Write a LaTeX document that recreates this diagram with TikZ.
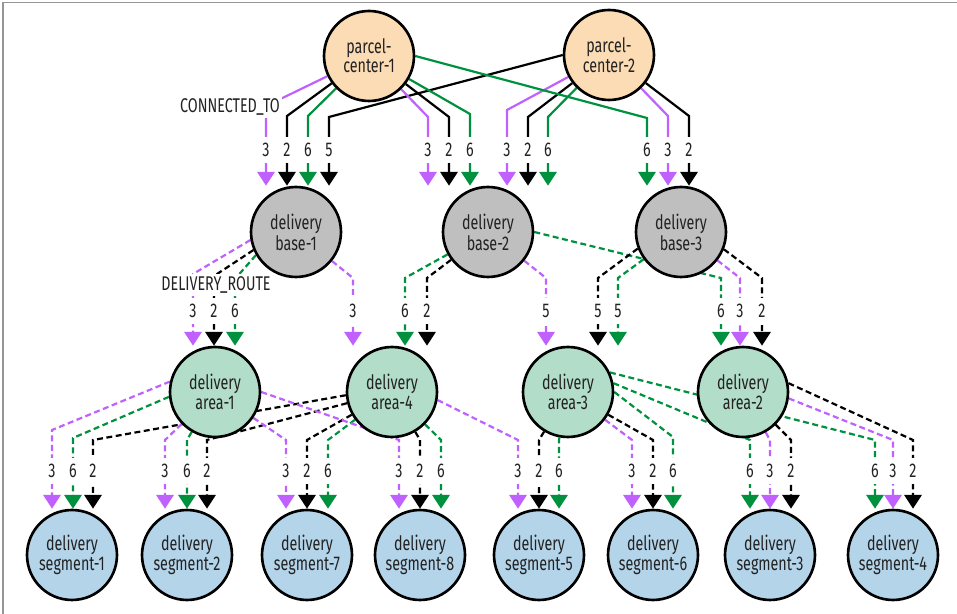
\documentclass[tikz,border=0pt]{standalone}
\usepackage{fontspec}
\setmainfont{Fira Sans}[FakeStretch=0.72]
\usepackage{tikz}
\usetikzlibrary{arrows.meta,backgrounds}
\definecolor{pcfill}{HTML}{FCDCB4}
\definecolor{basefill}{HTML}{BFBFBF}
\definecolor{areafill}{HTML}{B2DDC8}
\definecolor{segfill}{HTML}{B4D4EA}
\definecolor{per}{HTML}{BF60FF}
\definecolor{grn}{HTML}{00913F}
\definecolor{ink}{HTML}{222222}
\definecolor{framec}{HTML}{969696}
\tikzset{
  hub/.style={circle, draw=black, line width=1.5pt, minimum size=1.8cm,
              inner sep=0pt, align=center, text=ink,
              font=\fontsize{11.3}{9.8}\selectfont},
  pcn/.style={hub, fill=pcfill},
  basen/.style={hub, fill=basefill},
  arean/.style={hub, fill=areafill},
  segn/.style={hub, fill=segfill},
  lnk/.style={line width=1.25pt, -{Triangle[length=7.8pt,width=9.8pt]}},
  pu/.style={lnk, draw=per},
  bk/.style={lnk, draw=black},
  gn/.style={lnk, draw=grn},
  % delivery routes are dashed
  pud/.style={pu, dash pattern=on 3.4pt off 2pt},
  bkd/.style={bk, dash pattern=on 3.4pt off 2pt},
  gnd/.style={gn, dash pattern=on 3.4pt off 2pt},
  num/.style={fill=white, inner xsep=1pt, inner ysep=0pt, minimum height=14.5pt,
              text=ink, font=\fontsize{11.3}{11}\selectfont},
  rel/.style={fill=white, inner sep=1.5pt, text=ink,
              font=\fontsize{11.3}{11}\selectfont},
}

\begin{document}
\begin{tikzpicture}[x=0.02cm, y=-0.02cm]
  \useasboundingbox (0,0) rectangle (957,614);
  \draw[framec, line width=1.1pt] (3,614) -- (3,2.5) -- (957,2.5);

  % --- nodes ---
  \node[pcn] (pc1) at (369,56) {parcel-\\center-1};
  \node[pcn] (pc2) at (609,55) {parcel-\\center-2};

  \node[basen] (b1) at (296,232) {delivery\\base-1};
  \node[basen] (b2) at (488,232) {delivery\\base-2};
  \node[basen] (b3) at (681,232) {delivery\\base-3};

  \node[arean] (a1) at (215,392) {delivery\\area-1};
  \node[arean] (a4) at (392,392) {delivery\\area-4};
  \node[arean] (a3) at (568,392) {delivery\\area-3};
  \node[arean] (a2) at (743,392) {delivery\\area-2};

  \foreach \n/\x in {1/72, 2/187, 7/307, 8/420, 5/539, 6/653, 3/770, 4/893}
    \node[segn] (s\n) at (\x,555) {delivery\\segment-\n};

  \begin{pgfonlayer}{background}
    % --- CONNECTED_TO: parcel centres to bases ---
    \foreach \src/\st/\x/\yb/\lab/\tgt in {
        pc1/pu/266/106/3/b1, pc1/bk/287/116/2/b1, pc1/gn/308/116/6/b1,
        pc2.west/bk/329/117/5/b1,
        pc1/pu/428/117/3/b2, pc1/bk/449/117/2/b2, pc1/gn/470/114/6/b2,
        pc2/pu/507/110/3/b2, pc2/bk/528/117/2/b2, pc2/gn/548/117/6/b2,
        pc1.east/gn/647/118/6/b3, pc2/pu/668/116/3/b3, pc2/bk/689/116/2/b3}{
      \draw[\st] (\src) -- (\x,\yb) -- (\x,\yb |- \tgt.north);
      \node[num] (c-\tgt-\x) at (\x,150) {\lab};
    }
    % --- DELIVERY_ROUTE: bases to areas ---
    \foreach \src/\st/\x/\yb/\lab/\tgt in {
        b1.190/pud/193/274/3/a1, b1.203/bkd/214/276/2/a1, b1.210/gnd/235/279/6/a1,
        b1/pud/353/278/3/a4,
        b2/gnd/405/278/6/a4, b2/bkd/427/278/2/a4, b2/pud/546/278/5/a3,
        b2.east/gnd/721/278/6/a2,
        b3.201/bkd/598/278/5/a3, b3/gnd/618/278/5/a3,
        b3/pud/740/278/3/a2, b3.-22/bkd/762/278/2/a2}{
      \draw[\st] (\src) -- (\x,\yb) -- (\x,\yb |- \tgt.north);
      \node[num] (d-\tgt-\x) at (\x,311) {\lab};
    }
    % --- DELIVERY_ROUTE: areas to segments ---
    \foreach \src/\st/\x/\yb/\lab/\tgt in {
        a1.167/pud/52/430/3/s1, a1.186/gnd/73/438/6/s1, a4.184/bkd/93/440/2/s1,
        a1/pud/165/440/3/s2, a1/gnd/187/440/6/s2, a4.194/bkd/207/440/2/s2,
        a1/pud/286/440/3/s7, a4/bkd/307/440/2/s7, a4/gnd/328/440/6/s7,
        a1.east/pud/399/440/3/s8, a4/bkd/420/440/2/s8, a4/gnd/441/440/6/s8,
        a4.-10/pud/518/440/3/s5, a3/bkd/539/440/2/s5, a3/gnd/559/440/6/s5,
        a3/pud/632/440/3/s6, a3/bkd/653/440/2/s6, a3.0/gnd/673/437/6/s6,
        a3.11/gnd/750/440/6/s3, a2/pud/770/440/3/s3, a2/bkd/791/440/2/s3,
        a3.25/gnd/875/440/6/s4, a2.-8/pud/893/440/3/s4, a2.11/bkd/913/440/2/s4}{
      \draw[\st] (\src) -- (\x,\yb) -- (\x,\yb |- \tgt.north);
      \node[num] (r-\tgt-\x) at (\x,471) {\lab};
    }
  \end{pgfonlayer}

  % --- relationship names ---
  \node[rel] (conn) at (230,107) {CONNECTED\_TO};
  \node[rel] (route) at (216,285) {DELIVERY\_ROUTE};
\end{tikzpicture}
\end{document}
